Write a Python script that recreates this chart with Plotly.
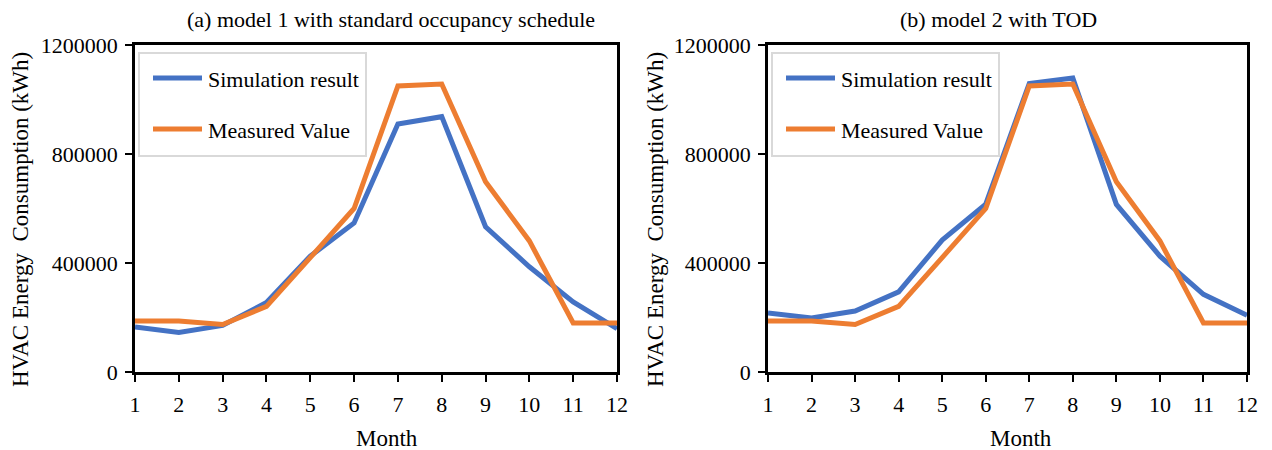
import plotly.graph_objects as go

# Monthly HVAC energy consumption (kWh)
months = list(range(1, 13))
sim_model1 = [165000, 145000, 171000, 255000, 425000, 547000, 910000, 937000, 533000, 386000, 257000, 159000]
sim_model2 = [217000, 198000, 224000, 294000, 484000, 616000, 1059000, 1079000, 615000, 425000, 285000, 208000]
measured = [187000, 187000, 174000, 241000, 420000, 600000, 1050000, 1057000, 698000, 481000, 180000, 180000]

panel_titles = ["(a) model 1 with standard occupancy schedule", "(b) model 2 with TOD"]
series_names = ["Simulation result", "Measured Value"]
y_ticks = [0, 400000, 800000, 1200000]

W, H = 1272, 450
BLUE = "#4472C4"
ORANGE = "#ED7D31"
FONT = "Liberation Serif"


def px(x):
    return x / W


def py(y):
    return 1 - y / H


# plot-area pixel boxes for the two panels
panels = [(135, 617), (768, 1247)]
top, bottom = 45, 372

fig = go.Figure()

for i, sim in enumerate([sim_model1, sim_model2]):
    xa = "x" if i == 0 else "x2"
    ya = "y" if i == 0 else "y2"
    fig.add_trace(go.Scatter(x=months, y=sim, mode="lines", name=series_names[0],
                             line=dict(color=BLUE, width=5), xaxis=xa, yaxis=ya,
                             showlegend=False))
    fig.add_trace(go.Scatter(x=months, y=measured, mode="lines", name=series_names[1],
                             line=dict(color=ORANGE, width=5), xaxis=xa, yaxis=ya,
                             showlegend=False))

axis_common = dict(showline=True, linecolor="black", linewidth=2.5, mirror=True,
                   ticks="outside", ticklen=7, tickwidth=2, tickcolor="black",
                   showgrid=False, zeroline=False, automargin=False,
                   tickfont=dict(family=FONT, size=22, color="black"))

layout = dict(width=W, height=H, margin=dict(l=0, r=0, t=0, b=0, autoexpand=False),
              paper_bgcolor="white", plot_bgcolor="white", showlegend=False)

for i, (x0, x1) in enumerate(panels):
    sfx = "" if i == 0 else "2"
    layout["xaxis" + sfx] = dict(axis_common, domain=[px(x0), px(x1)], range=[1, 12],
                                 tickmode="array", tickvals=months,
                                 ticklabelstandoff=4, anchor="y" + sfx)
    layout["yaxis" + sfx] = dict(axis_common, domain=[py(bottom), py(top)],
                                 range=[0, 1200000], tickmode="array", tickvals=y_ticks,
                                 tickformat="d", ticklabelstandoff=3, anchor="x" + sfx)

fig.update_layout(**layout)

annotations = []
shapes = []
title_x = [391, 998]
month_x = [387, 1021]
ylabel_x = [20, 655]
for i, (x0, x1) in enumerate(panels):
    annotations.append(dict(text=panel_titles[i], x=px(title_x[i]), y=py(19),
                            xref="paper", yref="paper", showarrow=False,
                            xanchor="center", yanchor="middle",
                            font=dict(family=FONT, size=22, color="black")))
    annotations.append(dict(text="Month", x=px(month_x[i]), y=py(438),
                            xref="paper", yref="paper", showarrow=False,
                            xanchor="center", yanchor="middle",
                            font=dict(family=FONT, size=23, color="black")))
    annotations.append(dict(text="HVAC Energy\u00a0 Consumption (kWh)", x=px(ylabel_x[i]), y=py(220),
                            xref="paper", yref="paper", showarrow=False, textangle=-90,
                            xanchor="center", yanchor="middle",
                            font=dict(family=FONT, size=23, color="black")))
    # legend box
    shapes.append(dict(type="rect", xref="paper", yref="paper",
                       x0=px(x0 + 4), x1=px(x0 + 231), y0=py(53), y1=py(156),
                       line=dict(color="#D9D9D9", width=2), fillcolor="white"))
    for j, (color, ly) in enumerate([(BLUE, 78), (ORANGE, 129)]):
        shapes.append(dict(type="line", xref="paper", yref="paper",
                           x0=px(x0 + 18), x1=px(x0 + 67), y0=py(ly), y1=py(ly),
                           line=dict(color=color, width=5)))
        annotations.append(dict(text=series_names[j], x=px(x0 + 71), y=py(ly + 1),
                                xref="paper", yref="paper", showarrow=False,
                                xanchor="left", yanchor="middle",
                                font=dict(family=FONT, size=22, color="black")))

fig.update_layout(annotations=annotations, shapes=shapes)
fig.write_html("out.html")
